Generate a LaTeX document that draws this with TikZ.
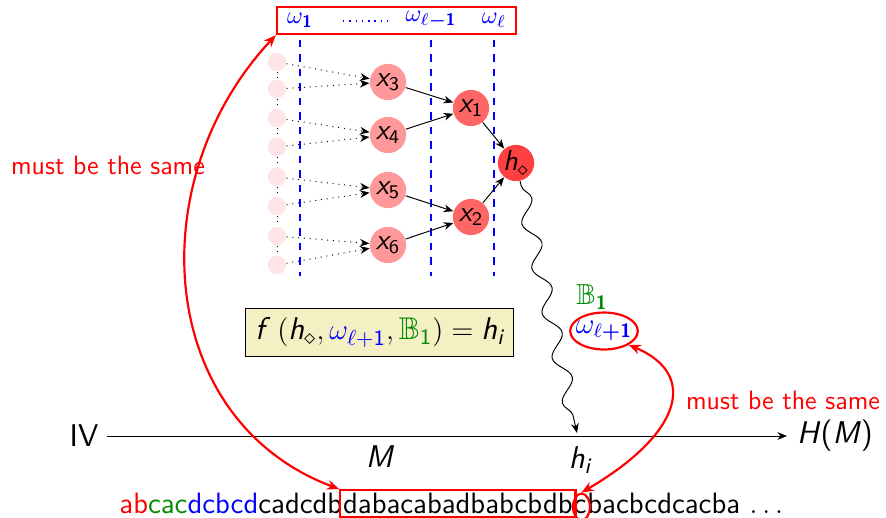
\documentclass[tikz,border=0pt]{standalone}
\usepackage{amsmath,amssymb}
\usetikzlibrary{arrows.meta,decorations.pathmorphing,fit,shapes.geometric}
\definecolor{boxyellow}{RGB}{245,240,196}
\definecolor{dgreen}{RGB}{0,140,0}
\newcommand{\tv}[1]{\text{\sffamily\itshape #1}}
\newcommand{\tn}[1]{\text{\sffamily #1}}
\newcommand{\tb}[1]{\text{\sffamily\bfseries #1}}
\begin{document}
\sffamily\fontsize{11}{13}\selectfont
\begin{tikzpicture}[x=0.414pt,y=-0.414pt,
  >={Stealth[length=4pt,width=3.2pt]},
  fnt10/.style={font=\fontsize{10}{12}\selectfont},
  fnt11/.style={font=\fontsize{11}{13}\selectfont},
  fnt12/.style={font=\fontsize{12}{14}\selectfont},
  fnt13/.style={font=\fontsize{13}{15}\selectfont},
  faint/.style={circle, fill=red!10, minimum size=7.6pt, inner sep=0pt},
  xa/.style={circle, fill=red!40, minimum size=15pt, inner sep=0pt, fnt12},
  xb/.style={circle, fill=red!60, minimum size=15pt, inner sep=0pt, fnt12},
  xc/.style={circle, fill=red!75, minimum size=15pt, inner sep=0pt, fnt12},
  wlab/.style={text=blue, fnt10},
  redline/.style={red, line width=0.9pt},
  vdash/.style={blue, dashed, line width=1.1pt},
  strpart/.style={font=\fontsize{12.2}{14}\selectfont, inner sep=0pt, anchor=base west},
  lbl/.style={text=red, fnt11},
  dbl/.style={redline, {Stealth[length=5pt,width=4pt]}-{Stealth[length=5pt,width=4pt]}}
]
\useasboundingbox (0,0) rectangle (886,517);

% top box with omegas
\node[draw=red, line width=0.9pt, minimum width=99pt, minimum height=11.2pt, inner sep=0pt] (top) at (396.5,20.5) {};
\node[wlab] (w1) at (300,20) {$\omega_{\tb{1}}$};
\node[wlab] (wlm) at (431,20) {$\omega_{\ell\boldsymbol{-}\tb{1}}$};
\node[wlab] (wll) at (494,20) {$\omega_{\ell}$};
\coordinate (d1) at (343,21);
\coordinate (d2) at (387,21);
\draw[blue, line width=0.6pt, dash pattern=on 0.6pt off 2pt] (d1) -- (d2);

% dashed lines
\foreach \x in {300,431,494} \draw[vdash] (\x,40) -- (\x,276);

% faint input circles
\foreach \i/\y in {1/62,2/89,3/118,4/147,5/177,6/206,7/236,8/265}
  \node[faint] (f\i) at (277,\y) {};
\foreach \a/\b in {1/2,2/3,3/4,4/5,5/6,6/7,7/8}
  \draw[dotted] (f\a) -- (f\b);

% tree nodes
\node[xa] (x3) at (388,82) {$\tv{x}_{\tn{3}}$};
\node[xa] (x4) at (388,135) {$\tv{x}_{\tn{4}}$};
\node[xa] (x5) at (388,190) {$\tv{x}_{\tn{5}}$};
\node[xa] (x6) at (388,245) {$\tv{x}_{\tn{6}}$};
\node[xb] (x1) at (471,108) {$\tv{x}_{\tn{1}}$};
\node[xb] (x2) at (471,217) {$\tv{x}_{\tn{2}}$};
\node[xc] (h) at (516,163) {$\tv{h}_\diamond$};

\foreach \a/\b in {f1/x3,f2/x3,f3/x4,f4/x4,f5/x5,f6/x5,f7/x6,f8/x6}
  \draw[dotted,->] (\a) -- (\b);
\foreach \a/\b in {x3/x1,x4/x1,x5/x2,x6/x2,x1/h,x2/h}
  \draw[->] (\a) -- (\b);

% axis
\node[fnt13] (iv) at (84,436) {IV};
\node[fnt13] (hm) at (835,436) {\textit{H}(\textit{M})};
\coordinate (axl) at (107,436);
\coordinate (axr) at (787,436);
\draw[->] (axl) -- (axr);
\node[fnt13] (m) at (380,457) {\textit{M}};
\node[fnt13] (hi) at (580,460) {$\tv{h}_{\tv{i}}$};

% snake
\coordinate (hit) at (577,433);
\draw[->, decorate, decoration={snake, amplitude=3.2pt, segment length=19pt, pre length=2pt, post length=5pt}] (h) -- (hit);

% B1 and omega l+1
\node[fnt12, text=dgreen] (b1) at (592,297) {$\mathbb{B}_{\tb{1}}$};
\node[fnt12, text=blue] (wnext) at (604,331) {$\omega_{\ell\boldsymbol{+}\tb{1}}$};
\node[draw=red, line width=0.9pt, ellipse, minimum width=28pt, minimum height=15.3pt, inner sep=0pt] (wring) at (604,331) {};

% formula box
\node[draw=black, fill=boxyellow, minimum width=111pt, minimum height=20pt, fnt13] (fbox) at (379.5,332.5)
  {$\tv{f}\;\left(\tv{h}_\diamond, {\color{blue}\omega_{\ell+\tn{1}}}, {\color{dgreen}\mathbb{B}_{\tn{1}}}\right) = \tv{h}_{\tv{i}}$};

% bottom string
\node[strpart] (s1) at (119,513.5) {{\color{red}ab}{\color{dgreen}cac}{\color{blue}dcbcd}cadcdb};
\node[strpart] (s2) at (s1.base east) {dabacabadbabcbdb};
\node[strpart] (s3) at (s2.base east) {c};
\node[strpart] (s4) at (s3.base east) {bacbcdcacba $\ldots$};
\node[draw=red, line width=0.9pt, fit=(s2), inner sep=1pt] (subbox) {};
\node[draw=red, line width=0.9pt, ellipse, minimum width=7pt, minimum height=11pt, inner sep=0pt] (cring) at ([xshift=0.6pt]s3.center) {};

% red "must be the same" arrows
\draw[dbl] (top.south west) .. controls (140,180) and (155,420) .. (subbox.north west);
\node[lbl] (same1) at (108,165) {must be the same};
\draw[dbl] (wring.south east) .. controls (700,375) and (680,435) .. (cring.north);
\node[lbl] (same2) at (783,400) {must be the same};
\end{tikzpicture}
\end{document}
